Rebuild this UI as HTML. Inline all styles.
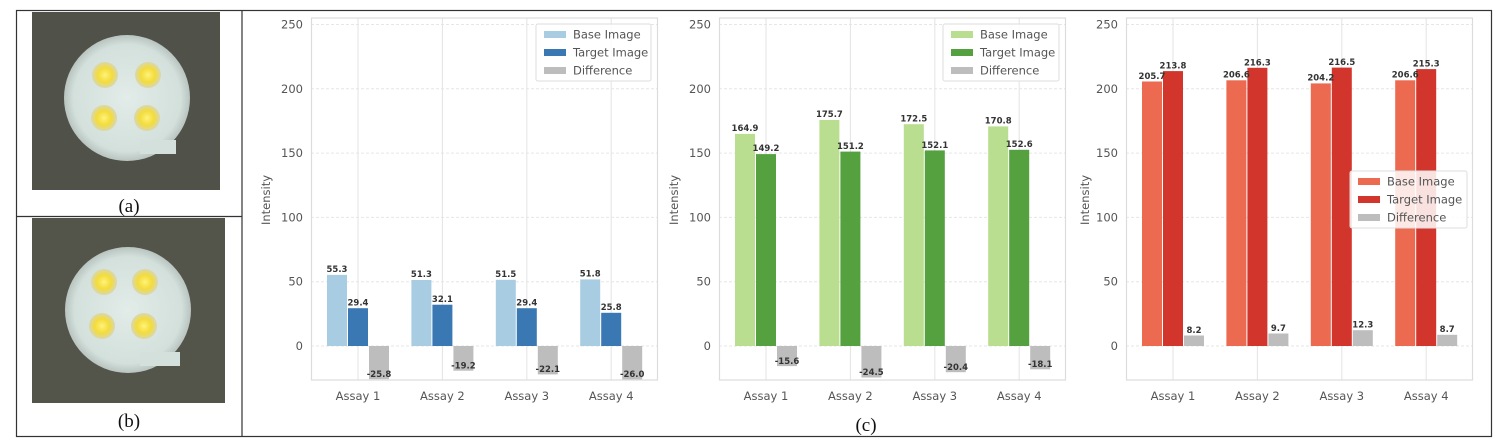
<!DOCTYPE html>
<html><head><meta charset="utf-8"><style>
html,body{margin:0;padding:0;background:#fff;}
svg{display:block;}
.t{font-family:"DejaVu Sans","Liberation Sans",sans-serif;font-size:11.5px;fill:#555;}
.v{font-family:"DejaVu Sans","Liberation Sans",sans-serif;font-size:8.5px;font-weight:bold;fill:#333;text-anchor:middle;}
.lg{font-family:"DejaVu Sans","Liberation Sans",sans-serif;font-size:11.5px;fill:#555;}
.cap{font-family:"Liberation Serif",serif;font-size:19px;fill:#111;text-anchor:middle;}
</style></head><body>
<svg width="1500" height="444" viewBox="0 0 1500 444" xmlns="http://www.w3.org/2000/svg">
<defs>
<radialGradient id="led"><stop offset="0" stop-color="#fff27a"/><stop offset="0.55" stop-color="#f3dc3a"/><stop offset="1" stop-color="#d9d7b0"/></radialGradient>
<radialGradient id="disc"><stop offset="0" stop-color="#e2ece8"/><stop offset="0.85" stop-color="#d3e0dc"/><stop offset="1" stop-color="#b9c4c0"/></radialGradient>
</defs>
<rect x="16.5" y="10.5" width="1475" height="426" fill="none" stroke="#333" stroke-width="1.2"/>
<line x1="242" y1="10" x2="242" y2="437" stroke="#333" stroke-width="1.2"/>
<line x1="16" y1="216.5" x2="242" y2="216.5" stroke="#333" stroke-width="1.2"/>
<!-- image a -->
<rect x="32" y="12" width="188" height="178" fill="#505148"/>
<circle cx="127" cy="98" r="63" fill="url(#disc)"/>
<rect x="140" y="140" width="36" height="14" fill="#d3e0dc"/>
<circle cx="105" cy="75" r="13" fill="url(#led)"/><circle cx="148" cy="75" r="13" fill="url(#led)"/>
<circle cx="104" cy="118" r="13" fill="url(#led)"/><circle cx="147" cy="118" r="13" fill="url(#led)"/>
<text x="129" y="212" class="cap">(a)</text>
<!-- image b -->
<rect x="32" y="218" width="193" height="185" fill="#53544a"/>
<circle cx="128" cy="310" r="63" fill="url(#disc)"/>
<rect x="140" y="352" width="40" height="14" fill="#d3e0dc"/>
<circle cx="104" cy="282" r="13" fill="url(#led)"/><circle cx="145" cy="282" r="13" fill="url(#led)"/>
<circle cx="102" cy="326" r="13" fill="url(#led)"/><circle cx="144" cy="326" r="13" fill="url(#led)"/>
<text x="129" y="427" class="cap">(b)</text>
<text x="866" y="431" class="cap">(c)</text>

<!-- chart 1 -->
<g transform="translate(311,0)">
<g stroke="#e6e6e6" stroke-width="1" stroke-dasharray="3,2">
<line x1="0" x2="346" y1="24.5" y2="24.5"/><line x1="0" x2="346" y1="88.8" y2="88.8"/><line x1="0" x2="346" y1="153.1" y2="153.1"/><line x1="0" x2="346" y1="217.4" y2="217.4"/><line x1="0" x2="346" y1="281.7" y2="281.7"/><line x1="0" x2="346" y1="346" y2="346"/></g>
<g stroke="#e3e3e3" stroke-width="1"><line x1="47" x2="47" y1="18" y2="380"/><line x1="131.4" x2="131.4" y1="18" y2="380"/><line x1="215.8" x2="215.8" y1="18" y2="380"/><line x1="300.2" x2="300.2" y1="18" y2="380"/></g>
<rect x="0.5" y="18" width="346" height="362" fill="none" stroke="#dcdcdc" stroke-width="1.2"/>
<g class="t" text-anchor="end"><text x="-8" y="28.5">250</text><text x="-8" y="92.8">200</text><text x="-8" y="157.1">150</text><text x="-8" y="221.4">100</text><text x="-8" y="285.7">50</text><text x="-8" y="350">0</text></g>
<text class="t" transform="translate(-41,200) rotate(-90)" text-anchor="middle">Intensity</text>
<g class="t" text-anchor="middle"><text x="47" y="400">Assay 1</text><text x="131.4" y="400">Assay 2</text><text x="215.8" y="400">Assay 3</text><text x="300.2" y="400">Assay 4</text></g>
<g fill="#a8cde3"><rect x="16" y="274.9" width="20" height="71.1"/><rect x="100.4" y="280" width="20" height="66"/><rect x="184.8" y="279.8" width="20" height="66.2"/><rect x="269.2" y="279.4" width="20" height="66.6"/></g>
<g fill="#3a78b4"><rect x="37" y="308.2" width="20" height="37.8"/><rect x="121.4" y="304.7" width="20" height="41.3"/><rect x="205.8" y="308.2" width="20" height="37.8"/><rect x="290.2" y="312.8" width="20" height="33.2"/></g>
<g fill="#bdbdbd"><rect x="58" y="346" width="20" height="33.2"/><rect x="142.4" y="346" width="20" height="24.7"/><rect x="226.8" y="346" width="20" height="28.4"/><rect x="311.2" y="346" width="20" height="33.4"/></g>
<g class="v"><text x="26" y="272">55.3</text><text x="110.4" y="277">51.3</text><text x="194.8" y="277">51.5</text><text x="279.2" y="276.5">51.8</text>
<text x="47" y="305.5">29.4</text><text x="131.4" y="302">32.1</text><text x="215.8" y="305.5">29.4</text><text x="300.2" y="310">25.8</text>
<text x="68" y="377">-25.8</text><text x="152.4" y="368.5">-19.2</text><text x="236.8" y="372">-22.1</text><text x="321.2" y="377">-26.0</text></g>
<rect x="225" y="24" width="115" height="57" rx="2" fill="#fff" fill-opacity="0.85" stroke="#dedede"/>
<rect x="233" y="31" width="22" height="7" fill="#a8cde3"/><rect x="233" y="49" width="22" height="7" fill="#3a78b4"/><rect x="233" y="67" width="22" height="7" fill="#bdbdbd"/>
<text class="lg" x="262" y="38.5">Base Image</text><text class="lg" x="262" y="56.5">Target Image</text><text class="lg" x="262" y="74.5">Difference</text>
</g>

<!-- chart 2 -->
<g transform="translate(719,0)">
<g stroke="#e6e6e6" stroke-width="1" stroke-dasharray="3,2">
<line x1="0" x2="346" y1="24.5" y2="24.5"/><line x1="0" x2="346" y1="88.8" y2="88.8"/><line x1="0" x2="346" y1="153.1" y2="153.1"/><line x1="0" x2="346" y1="217.4" y2="217.4"/><line x1="0" x2="346" y1="281.7" y2="281.7"/><line x1="0" x2="346" y1="346" y2="346"/></g>
<g stroke="#e3e3e3" stroke-width="1"><line x1="47" x2="47" y1="18" y2="380"/><line x1="131.4" x2="131.4" y1="18" y2="380"/><line x1="215.8" x2="215.8" y1="18" y2="380"/><line x1="300.2" x2="300.2" y1="18" y2="380"/></g>
<rect x="0.5" y="18" width="346" height="362" fill="none" stroke="#dcdcdc" stroke-width="1.2"/>
<g class="t" text-anchor="end"><text x="-8" y="28.5">250</text><text x="-8" y="92.8">200</text><text x="-8" y="157.1">150</text><text x="-8" y="221.4">100</text><text x="-8" y="285.7">50</text><text x="-8" y="350">0</text></g>
<text class="t" transform="translate(-41,200) rotate(-90)" text-anchor="middle">Intensity</text>
<g class="t" text-anchor="middle"><text x="47" y="400">Assay 1</text><text x="131.4" y="400">Assay 2</text><text x="215.8" y="400">Assay 3</text><text x="300.2" y="400">Assay 4</text></g>
<g fill="#b9de90"><rect x="16" y="133.9" width="20" height="212.1"/><rect x="100.4" y="120" width="20" height="226"/><rect x="184.8" y="124.2" width="20" height="221.8"/><rect x="269.2" y="126.4" width="20" height="219.6"/></g>
<g fill="#55a03f"><rect x="37" y="154.1" width="20" height="191.9"/><rect x="121.4" y="151.6" width="20" height="194.4"/><rect x="205.8" y="150.4" width="20" height="195.6"/><rect x="290.2" y="149.8" width="20" height="196.2"/></g>
<g fill="#bdbdbd"><rect x="58" y="346" width="20" height="20.1"/><rect x="142.4" y="346" width="20" height="31.5"/><rect x="226.8" y="346" width="20" height="26.2"/><rect x="311.2" y="346" width="20" height="23.3"/></g>
<g class="v"><text x="26" y="131">164.9</text><text x="110.4" y="117">175.7</text><text x="194.8" y="121.5">172.5</text><text x="279.2" y="123.5">170.8</text>
<text x="47" y="151">149.2</text><text x="131.4" y="149">151.2</text><text x="215.8" y="148">152.1</text><text x="300.2" y="147">152.6</text>
<text x="68" y="364">-15.6</text><text x="152.4" y="375">-24.5</text><text x="236.8" y="370">-20.4</text><text x="321.2" y="367">-18.1</text></g>
<rect x="224" y="24" width="116" height="57" rx="2" fill="#fff" fill-opacity="0.85" stroke="#dedede"/>
<rect x="232" y="31" width="22" height="7" fill="#b9de90"/><rect x="232" y="49" width="22" height="7" fill="#55a03f"/><rect x="232" y="67" width="22" height="7" fill="#bdbdbd"/>
<text class="lg" x="261" y="38.5">Base Image</text><text class="lg" x="261" y="56.5">Target Image</text><text class="lg" x="261" y="74.5">Difference</text>
</g>

<!-- chart 3 -->
<g transform="translate(1126,0)">
<g stroke="#e6e6e6" stroke-width="1" stroke-dasharray="3,2">
<line x1="0" x2="346" y1="24.5" y2="24.5"/><line x1="0" x2="346" y1="88.8" y2="88.8"/><line x1="0" x2="346" y1="153.1" y2="153.1"/><line x1="0" x2="346" y1="217.4" y2="217.4"/><line x1="0" x2="346" y1="281.7" y2="281.7"/><line x1="0" x2="346" y1="346" y2="346"/></g>
<g stroke="#e3e3e3" stroke-width="1"><line x1="47" x2="47" y1="18" y2="380"/><line x1="131.4" x2="131.4" y1="18" y2="380"/><line x1="215.8" x2="215.8" y1="18" y2="380"/><line x1="300.2" x2="300.2" y1="18" y2="380"/></g>
<rect x="0.5" y="18" width="346" height="362" fill="none" stroke="#dcdcdc" stroke-width="1.2"/>
<g class="t" text-anchor="end"><text x="-8" y="28.5">250</text><text x="-8" y="92.8">200</text><text x="-8" y="157.1">150</text><text x="-8" y="221.4">100</text><text x="-8" y="285.7">50</text><text x="-8" y="350">0</text></g>
<text class="t" transform="translate(-37,200) rotate(-90)" text-anchor="middle">Intensity</text>
<g class="t" text-anchor="middle"><text x="47" y="400">Assay 1</text><text x="131.4" y="400">Assay 2</text><text x="215.8" y="400">Assay 3</text><text x="300.2" y="400">Assay 4</text></g>
<g fill="#eb6a50"><rect x="16" y="81.5" width="20" height="264.5"/><rect x="100.4" y="80.3" width="20" height="265.7"/><rect x="184.8" y="83.4" width="20" height="262.6"/><rect x="269.2" y="80.3" width="20" height="265.7"/></g>
<g fill="#d2352c"><rect x="37" y="71.1" width="20" height="274.9"/><rect x="121.4" y="67.8" width="20" height="278.2"/><rect x="205.8" y="67.6" width="20" height="278.4"/><rect x="290.2" y="69.1" width="20" height="276.9"/></g>
<g fill="#bdbdbd"><rect x="58" y="335.5" width="20" height="10.5"/><rect x="142.4" y="333.5" width="20" height="12.5"/><rect x="226.8" y="330.2" width="20" height="15.8"/><rect x="311.2" y="334.8" width="20" height="11.2"/></g>
<g class="v"><text x="26" y="79">205.7</text><text x="110.4" y="77.5">206.6</text><text x="194.8" y="80.5">204.2</text><text x="279.2" y="77.5">206.6</text>
<text x="47" y="68.5">213.8</text><text x="131.4" y="65.5">216.3</text><text x="215.8" y="65">216.5</text><text x="300.2" y="66.5">215.3</text>
<text x="68" y="333">8.2</text><text x="152.4" y="331">9.7</text><text x="236.8" y="327.5">12.3</text><text x="321.2" y="332">8.7</text></g>
<rect x="224" y="171" width="117" height="57" rx="2" fill="#fff" fill-opacity="0.85" stroke="#dedede"/>
<rect x="232" y="178" width="22" height="7" fill="#eb6a50"/><rect x="232" y="196" width="22" height="7" fill="#d2352c"/><rect x="232" y="214" width="22" height="7" fill="#bdbdbd"/>
<text class="lg" x="261" y="185.5">Base Image</text><text class="lg" x="261" y="203.5">Target Image</text><text class="lg" x="261" y="221.5">Difference</text>
</g>
</svg>
</body></html>
